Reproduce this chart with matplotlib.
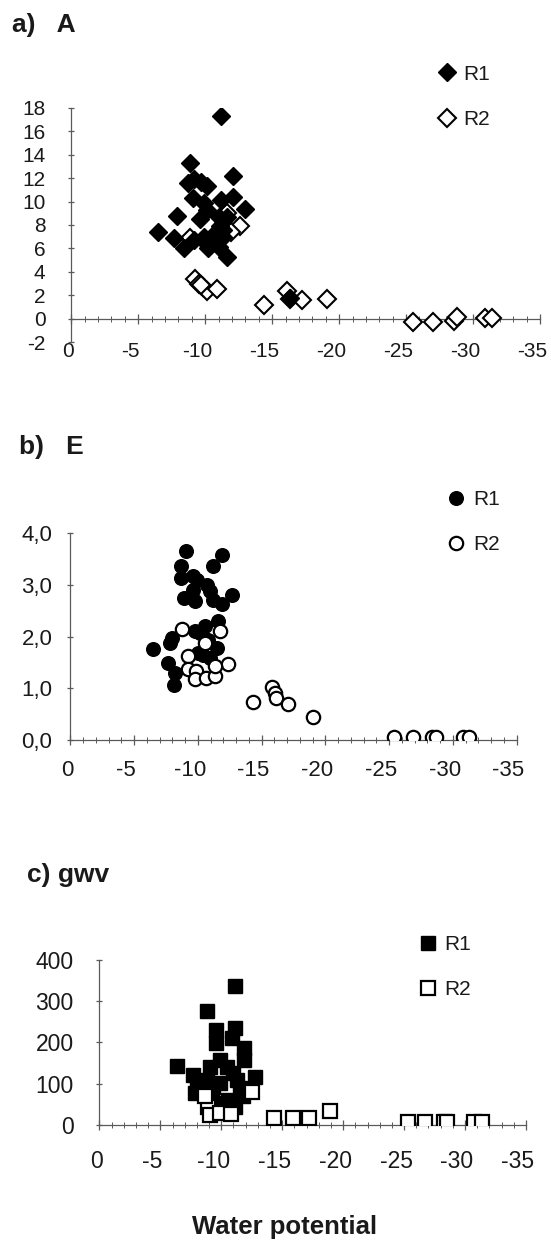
import matplotlib
matplotlib.use('Agg')
import matplotlib.pyplot as plt
from matplotlib.ticker import MultipleLocator, FixedLocator, FixedFormatter
from matplotlib.transforms import ScaledTranslation

plt.rcParams['font.family'] = ['Liberation Sans', 'DejaVu Sans']

#------data------
x_ticks = [0, -5, -10, -15, -20, -25, -30, -35]
x_tick_labels = ['0', '-5', '-10', '-15', '-20', '-25', '-30', '-35']

# a) A
a_r1_x = [-11.2, -8.9, -12.1, -8.7, -9.2, -9.7, -10.1, -9.1, -9.9, -11.2, -12.1,
          -10.1, -13.0, -7.9, -9.6, -11.0, -11.35, -11.6, -6.5, -7.7, -8.4, -9.2,
          -9.9, -10.1, -10.2, -10.7, -11.1, -11.35, -10.85, -11.35, -11.0, -11.6, -16.3]
a_r1_y = [17.3, 13.3, 12.2, 11.6, 11.9, 11.7, 11.3, 10.3, 9.9, 10.1, 10.4,
          9.3, 9.4, 8.8, 8.5, 8.7, 8.3, 8.7, 7.4, 6.9, 6.0, 6.7,
          7.0, 6.4, 6.0, 7.3, 7.9, 7.6, 6.7, 7.0, 6.1, 5.3, 1.8]
a_r2_x = [-9.25, -9.5, -9.85, -10.1, -10.85, -9.7, -12.6, -11.6, -8.9, -11.9,
          -14.4, -16.1, -16.3, -17.25, -19.1, -25.5, -27.0, -28.6, -28.8, -30.9, -31.4]
a_r2_y = [3.4, 3.0, 2.7, 2.4, 2.5, 2.9, 7.9, 9.0, 6.9, 7.4,
          1.2, 2.4, 1.7, 1.6, 1.65, -0.27, -0.27, -0.2, 0.1, 0.02, 0.05]
a_y_ticks = [-2, 0, 2, 4, 6, 8, 10, 12, 14, 16, 18]
a_y_labels = ['-2', '0', '2', '4', '6', '8', '10', '12', '14', '16', '18']

# b) E
b_r1_x = [-9.1, -11.9, -8.7, -11.2, -8.7, -9.65, -9.9, -10.7, -9.65, -8.9, -9.8,
          -10.95, -11.2, -11.9, -12.7, -11.6, -10.6, -9.8, -10.2, -7.95, -7.8, -6.5,
          -10.8, -10.0, -10.4, -10.95, -11.5, -7.7, -8.2, -8.1]
b_r1_y = [3.65, 3.58, 3.37, 3.36, 3.13, 3.16, 3.1, 3.0, 2.9, 2.75, 2.68,
          2.87, 2.7, 2.62, 2.81, 2.3, 2.2, 2.1, 2.07, 1.97, 1.88, 1.76,
          1.94, 1.68, 1.65, 1.59, 1.78, 1.49, 1.3, 1.07]
b_r2_x = [-8.75, -11.75, -10.6, -9.2, -12.4, -9.25, -9.85, -9.8, -10.65, -11.35,
          -11.35, -14.3, -15.85, -16.05, -16.1, -17.1, -19.0, -25.4, -26.9, -28.35,
          -28.7, -30.8, -31.3]
b_r2_y = [2.15, 2.1, 1.88, 1.63, 1.47, 1.38, 1.33, 1.17, 1.2, 1.23,
          1.43, 0.74, 1.03, 0.9, 0.82, 0.69, 0.44, 0.05, 0.05, 0.06,
          0.06, 0.06, 0.06]
b_y_ticks = [0, 1, 2, 3, 4]
b_y_labels = ['0,0', '1,0', '2,0', '3,0', '4,0']

# c) gwv
c_r1_x = [-11.1, -8.8, -9.55, -11.1, -10.85, -9.55, -11.9, -11.9, -6.4, -12.75,
          -9.05, -9.9, -10.45, -11.0, -7.7, -8.0, -7.85, -8.8, -9.35, -9.9,
          -11.25, -11.55, -11.8, -9.2, -9.9, -10.55, -11.1, -16.6]
c_r1_y = [337, 275, 230, 234, 210, 198, 186, 158, 143, 117,
          141, 158, 141, 125, 121, 97, 77, 109, 93, 101,
          109, 89, 69, 69, 53, 61, 44, 16]
c_r2_x = [-12.5, -8.95, -9.05, -9.9, -10.8, -8.65, -14.3, -15.85, -17.2, -18.95,
          -25.3, -26.7, -28.3, -28.5, -30.7, -31.4]
c_r2_y = [81, 44, 24, 28, 27, 69, 16, 16, 16, 34,
          8, 8, 8, 8, 8, 8]
c_y_ticks = [0, 100, 200, 300, 400]
c_y_labels = ['0', '100', '200', '300', '400']

AXIS_COL = '#5a5a5a'
TXT_COL = '#1a1a1a'


def style_axis(ax, ylim, yticks, ylabels, xpad, ypad, fs):
    """Cross shaped ticks, x axis line at zero, inverted water potential."""
    ax.set_xlim(0, -35)
    ax.set_ylim(*ylim)
    for s in ['top', 'right']:
        ax.spines[s].set_visible(False)
    ax.spines['bottom'].set_position(('data', 0))
    for s in ['left', 'bottom']:
        ax.spines[s].set_color(AXIS_COL)
        ax.spines[s].set_linewidth(0.9)
    ax.xaxis.set_major_locator(FixedLocator(x_ticks))
    ax.xaxis.set_major_formatter(FixedFormatter(x_tick_labels))
    ax.xaxis.set_minor_locator(MultipleLocator(1))
    ax.yaxis.set_major_locator(FixedLocator(yticks))
    ax.yaxis.set_major_formatter(FixedFormatter(ylabels))
    ax.tick_params(axis='x', which='major', direction='inout', length=7, width=0.9,
                   color=AXIS_COL, pad=xpad, labelsize=fs, labelcolor=TXT_COL)
    ax.tick_params(axis='x', which='minor', direction='inout', length=4, width=0.7,
                   color=AXIS_COL)
    ax.tick_params(axis='y', which='major', direction='inout', length=5, width=0.9,
                   color=AXIS_COL, pad=ypad, labelsize=fs, labelcolor=TXT_COL)
    ax.patch.set_visible(False)
    # the original labels sit a little left of their ticks
    for lbl in ax.get_xticklabels():
        dx = -3 if lbl.get_text() == '0' else -8
        lbl.set_transform(lbl.get_transform() +
                          ScaledTranslation(dx / 100, 0, fig.dpi_scale_trans))


def add_legend(ax, h1, h2, fx, fy, fs, gap):
    ax.legend([h1, h2], ['R1', 'R2'], loc='center left', bbox_to_anchor=(fx, fy),
              bbox_transform=fig.transFigure, frameon=False, fontsize=fs,
              handlelength=0.8, handletextpad=gap, labelspacing=1.25,
              borderpad=0, borderaxespad=0, labelcolor=TXT_COL)


fig = plt.figure(figsize=(5.51, 12.41), dpi=100)

#------a) A------
ax_a = fig.add_axes([0.1294, 0.7244, 0.8506, 0.1886])
r2 = ax_a.plot(a_r2_x, a_r2_y, ls='none', marker='D', ms=9.3, mfc='white',
               mec='black', mew=1.5, zorder=3)[0]
r1 = ax_a.plot(a_r1_x, a_r1_y, ls='none', marker='D', ms=9.6, mfc='black',
               mec='black', mew=1.0, zorder=4)[0]
style_axis(ax_a, (-2, 18), a_y_ticks, a_y_labels, xpad=13, ypad=16, fs=15)
add_legend(ax_a, r1, r2, 0.796, 0.9220, 15, 0.37)
fig.text(0.022, 0.980, 'a)   A', fontsize=19, fontweight='bold', va='center',
         color=TXT_COL)

#------b) E------
ax_b = fig.add_axes([0.1276, 0.4037, 0.8098, 0.1668])
r1 = ax_b.plot(b_r1_x, b_r1_y, ls='none', marker='o', ms=9.8, mfc='black',
               mec='black', mew=1.0, zorder=3)[0]
r2 = ax_b.plot(b_r2_x, b_r2_y, ls='none', marker='o', ms=9.6, mfc='white',
               mec='black', mew=1.6, zorder=4)[0]
style_axis(ax_b, (0, 4), b_y_ticks, b_y_labels, xpad=11, ypad=10.5, fs=16)
add_legend(ax_b, r1, r2, 0.8125, 0.5795, 15, 0.42)
fig.text(0.035, 0.6398, 'b)   E', fontsize=19, fontweight='bold', va='center',
         color=TXT_COL)

#------c) gwv------
ax_c = fig.add_axes([0.1804, 0.0935, 0.7742, 0.1330])
r1 = ax_c.plot(c_r1_x, c_r1_y, ls='none', marker='s', ms=9.6, mfc='black',
               mec='black', mew=1.0, zorder=3)[0]
r2 = ax_c.plot(c_r2_x, c_r2_y, ls='none', marker='s', ms=9.4, mfc='white',
               mec='black', mew=1.6, zorder=4)[0]
style_axis(ax_c, (0, 400), c_y_ticks, c_y_labels, xpad=14.5, ypad=16, fs=16.5)
add_legend(ax_c, r1, r2, 0.7617, 0.2208, 15, 0.37)
fig.text(0.049, 0.2949, 'c) gwv', fontsize=19, fontweight='bold', va='center',
         color=TXT_COL)

fig.text(0.517, 0.0113, 'Water potential', fontsize=18.5, fontweight='bold',
         ha='center', va='center', color=TXT_COL)

fig.savefig('out.png', dpi=100)
